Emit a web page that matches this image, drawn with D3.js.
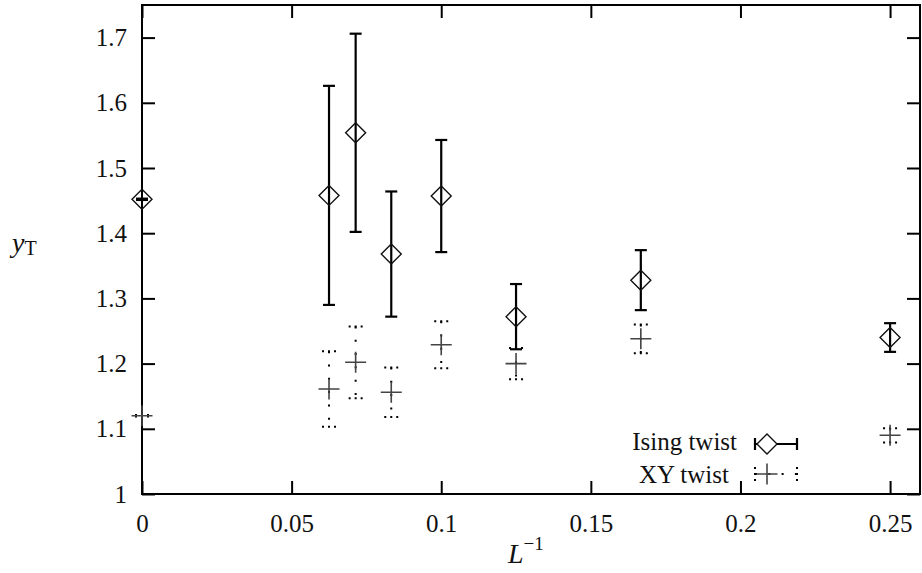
<!DOCTYPE html>
<html><head><meta charset="utf-8">
<script src="https://cdn.jsdelivr.net/npm/d3@7/dist/d3.min.js"></script>
<style>
body{margin:0;background:#fff;}
svg text{font-family:"Liberation Serif","Times New Roman",Times,"Noto Serif","DejaVu Serif",serif !important;fill:#111;}
</style></head>
<body><svg id="c" width="922" height="573"></svg>
<script>
// data
const invL = [0, 0.0625, 0.0714, 0.0833, 0.1, 0.125, 0.1667, 0.25];
const isingY = [1.452, 1.458, 1.554, 1.368, 1.457, 1.272, 1.328, 1.240];
const isingErr = [0.001, 0.168, 0.152, 0.096, 0.086, 0.050, 0.046, 0.022];
const xyY = [1.120, 1.161, 1.202, 1.156, 1.229, 1.200, 1.238, 1.090];
const xyErr = [0.001, 0.058, 0.055, 0.038, 0.036, 0.024, 0.022, 0.011];
const xTicks = [0, 0.05, 0.1, 0.15, 0.2, 0.25];
const yTicks = [1, 1.1, 1.2, 1.3, 1.4, 1.5, 1.6, 1.7];
const seriesNames = ["Ising twist", "XY twist"];

const FONT = '"Liberation Serif","Times New Roman",Times,"Noto Serif","DejaVu Serif",serif';
const svg = d3.select("#c");
const L = 142, R = 920, T = 5, B = 494;
const x = d3.scaleLinear().domain([0, 0.26]).range([L, R]);
const y = d3.scaleLinear().domain([1, 1.75]).range([B, T]);
const fmt = d => d3.format("")(+d.toFixed(2));

// axes
const gx = svg.append("g").attr("transform", `translate(0,${B})`)
  .call(d3.axisBottom(x).tickValues(xTicks).tickFormat(fmt).tickSizeInner(-13).tickSizeOuter(0).tickPadding(20));
const gxt = svg.append("g").attr("transform", `translate(0,${T})`)
  .call(d3.axisTop(x).tickValues(xTicks).tickFormat("").tickSizeInner(-13).tickSizeOuter(0));
const gy = svg.append("g").attr("transform", `translate(${L},0)`)
  .call(d3.axisLeft(y).tickValues(yTicks).tickFormat(fmt).tickSizeInner(-13).tickSizeOuter(0).tickPadding(15));
const gyr = svg.append("g").attr("transform", `translate(${R},0)`)
  .call(d3.axisRight(y).tickValues(yTicks).tickFormat("").tickSizeInner(-13).tickSizeOuter(0));
[gx, gxt, gy, gyr].forEach(g => {
  g.attr("font-family", FONT);
  g.select(".domain").remove();
  g.selectAll("line").attr("stroke", "#000").attr("stroke-width", 2);
  g.selectAll("text").attr("font-size", 25).attr("fill", "#111").attr("font-family", FONT);
});
svg.append("rect").attr("x", L).attr("y", T).attr("width", R - L).attr("height", B - T)
  .attr("fill", "none").attr("stroke", "#000").attr("stroke-width", 2);

// axis labels
const xl = svg.append("text").attr("x", 508).attr("y", 563).attr("font-size", 28).attr("font-family", FONT);
xl.append("tspan").attr("font-style", "italic").text("L");
xl.append("tspan").attr("font-size", 19).attr("dy", -13).text("\u22121");
const yl = svg.append("text").attr("x", 12).attr("y", 252).attr("font-size", 28).attr("font-family", FONT);
yl.append("tspan").attr("font-style", "italic").text("y");
yl.append("tspan").attr("font-size", 20).attr("dy", 3).text("T");

const diamond = (cx, cy, s) => `M${cx},${cy - s}L${cx + s},${cy}L${cx},${cy + s}L${cx - s},${cy}Z`;
const plus = (cx, cy, s) => `M${cx - s},${cy}H${cx + s}M${cx},${cy - s}V${cy + s}`;

function errBar(g, cx, y0, y1, solid) {
  const stem = g.append("line").attr("x1", cx).attr("x2", cx).attr("y1", y0).attr("y2", y1)
    .attr("stroke", "#000");
  const caps = [y0, y1].map(yy => g.append("line").attr("x1", cx - 7).attr("x2", cx + 7)
    .attr("y1", yy).attr("y2", yy).attr("stroke", "#000"));
  if (solid) {
    stem.attr("stroke-width", 2.2);
    caps.forEach(c => c.attr("x1", cx - 6).attr("x2", cx + 6).attr("stroke-width", 2.2));
  } else {
    stem.attr("stroke-width", 2).attr("stroke-dasharray", "2,11.3");
    caps.forEach(c => c.attr("stroke-width", 2).attr("stroke-dasharray", "2,4"));
  }
}

// XY twist
const gXY = svg.append("g");
invL.forEach((v, i) => {
  errBar(gXY, x(v), y(xyY[i] + xyErr[i]), y(xyY[i] - xyErr[i]), false);
});
gXY.selectAll("path.p").data(invL).join("path").attr("class", "p")
  .attr("d", (v, i) => plus(x(v), y(xyY[i]), 10.5))
  .attr("stroke", "#444").attr("stroke-width", 1.6).attr("fill", "none");

// Ising twist
const gI = svg.append("g");
invL.forEach((v, i) => {
  errBar(gI, x(v), y(isingY[i] + isingErr[i]), y(isingY[i] - isingErr[i]), true);
});
gI.selectAll("path.d").data(invL).join("path").attr("class", "d")
  .attr("d", (v, i) => diamond(x(v), y(isingY[i]), 10))
  .attr("stroke", "#111").attr("stroke-width", 1.4).attr("fill", "none");

// legend
const lg = svg.append("g").attr("font-family", FONT);
lg.append("text").attr("x", 737).attr("y", 450).attr("text-anchor", "end").attr("font-size", 25).text(seriesNames[0]);
lg.append("text").attr("x", 729).attr("y", 483).attr("text-anchor", "end").attr("font-size", 25).text(seriesNames[1]);
// Ising sample
lg.append("line").attr("x1", 755).attr("x2", 797).attr("y1", 444).attr("y2", 444).attr("stroke", "#000").attr("stroke-width", 2.2);
[755, 797].forEach(xx => lg.append("line").attr("x1", xx).attr("x2", xx).attr("y1", 438).attr("y2", 450).attr("stroke", "#000").attr("stroke-width", 2.2));
lg.append("path").attr("d", diamond(767, 444, 10)).attr("stroke", "#111").attr("stroke-width", 1.4).attr("fill", "#fff");
// XY sample
lg.append("line").attr("x1", 755).attr("x2", 797).attr("y1", 474).attr("y2", 474).attr("stroke", "#000").attr("stroke-width", 2).attr("stroke-dasharray", "2,11.3");
[755, 797].forEach(xx => lg.append("line").attr("x1", xx).attr("x2", xx).attr("y1", 467).attr("y2", 481).attr("stroke", "#000").attr("stroke-width", 2).attr("stroke-dasharray", "2,4"));
lg.append("path").attr("d", plus(767, 474, 10.5)).attr("stroke", "#444").attr("stroke-width", 1.6).attr("fill", "none");
</script></body></html>
